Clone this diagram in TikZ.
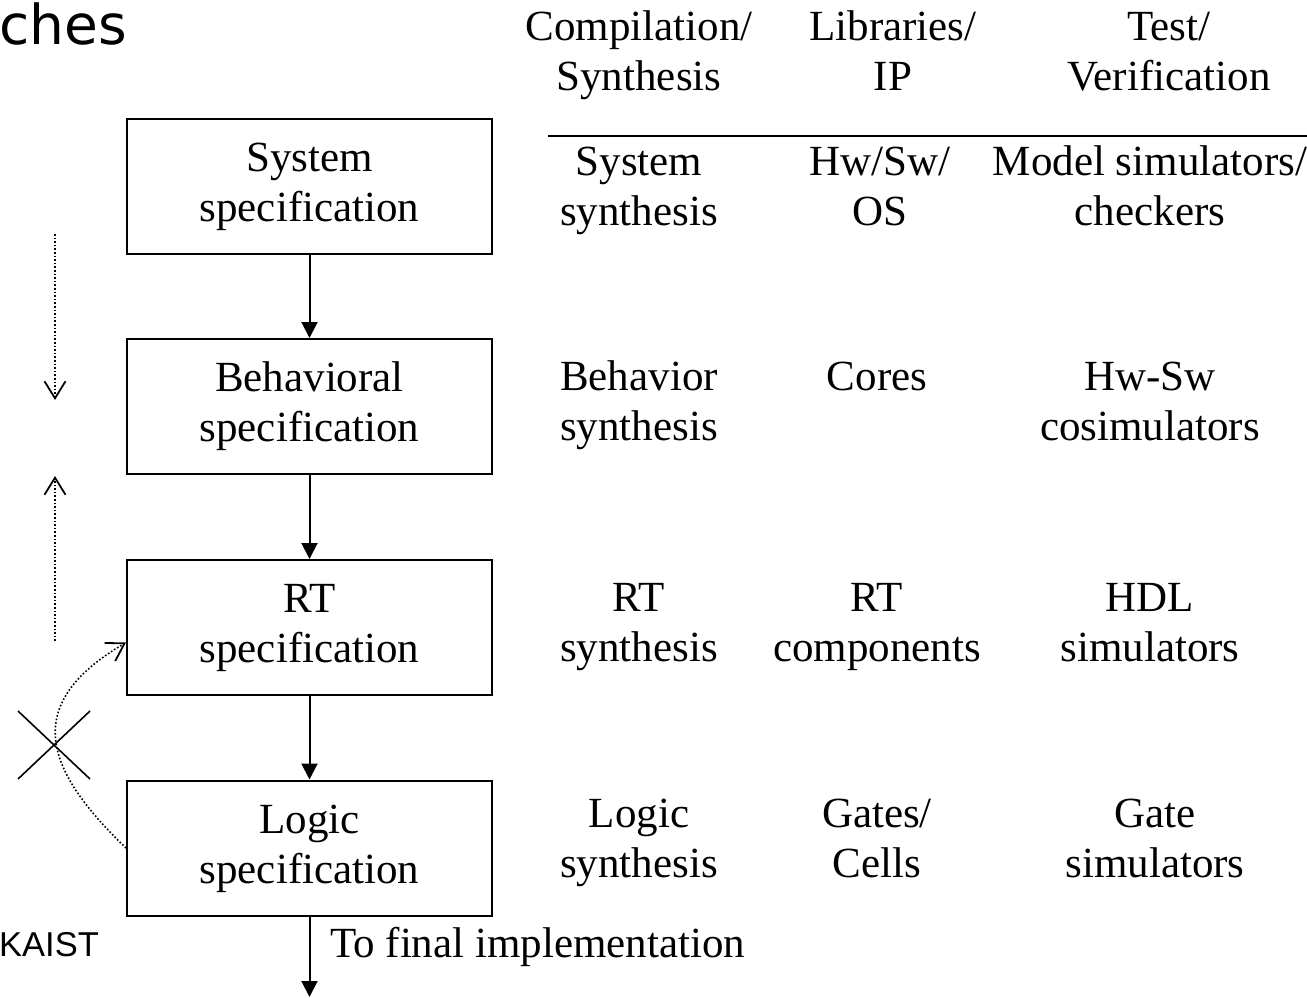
\documentclass[tikz,border=0pt]{standalone}
\usepackage{fontspec}
\setmainfont{Liberation Serif}
\newfontfamily\titlefont{DejaVu Sans}
\newfontfamily\logofont{Liberation Sans}
\usetikzlibrary{arrows.meta}
\begin{document}
\begin{tikzpicture}[x=1pt,y=-1pt,
  every node/.style={inner sep=0pt},
  txt/.style={font=\fontsize{43}{50}\selectfont, align=center},
  specbox/.style={txt, draw, line width=2pt, minimum width=365pt, minimum height=135pt},
  flow/.style={line width=2pt, -{Triangle[length=16pt,width=16pt]}},
  dotarrow/.style={line width=1.6pt, dotted, -{Straight Barb[length=17pt,width=21pt,line width=1.8pt]}},
  cross/.style={line width=1.6pt}
]
\useasboundingbox (0,0) rectangle (1307,998);
\newcommand{\tp}{\rule{0pt}{30pt}}
\newcommand{\bt}{\rule[-10pt]{0pt}{10pt}}

% title fragment and logo
\node[font=\titlefont\fontsize{55}{60}\selectfont, anchor=base west] (title) at (-1,45) {ches};
\node[font=\logofont\fontsize{34.5}{40}\selectfont, anchor=base west] (logo) at (-1,956) {KAIST};

% boxes
\node[specbox] (b1) at (309.5,186.5) {\tp System\\specification\bt};
\node[specbox] (b2) at (309.5,406.5) {\tp Behavioral\\specification\bt};
\node[specbox] (b3) at (309.5,627.5) {\tp RT\\specification\bt};
\node[specbox] (b4) at (309.5,848) {\tp Logic\\specification\bt};
\coordinate (fin) at (309.5,997);

\draw[flow] (b1) -- (b2);
\draw[flow] (b2) -- (b3);
\draw[flow] (b3) -- (b4);
\draw[flow] (b4) -- (fin);
\node[txt, anchor=base west] (impl) at (330,957) {To final implementation};

% headers
\node[txt] (h1) at (639,55) {\tp Compilation/\\Synthesis\bt};
\node[txt] (h2) at (893,55) {\tp Libraries/\\IP\bt};
\node[txt] (h3) at (1169,55) {\tp Test/\\Verification\bt};
\coordinate (rl) at (548,136);
\coordinate (rr) at (1307,136);
\draw[line width=2.5pt] (rl) -- (rr);

% rows
\node[txt] (r11) at (639,190) {\tp System\\synthesis\bt};
\node[txt] (r12) at (880,190) {\tp Hw/Sw/\\OS\bt};
\node[txt] (r13) at (1150,190) {\tp Model simulators/\\checkers\bt};

\node[txt] (r21) at (639,405) {\tp Behavior\\synthesis\bt};
\node[txt] (r22) at (877,405) {\tp Cores\\\bt};
\node[txt] (r23) at (1150,405) {\tp Hw-Sw\\cosimulators\bt};

\node[txt] (r31) at (639,626) {\tp RT\\synthesis\bt};
\node[txt] (r32) at (877,626) {\tp RT\\components\bt};
\node[txt] (r33) at (1150,626) {\tp HDL\\simulators\bt};

\node[txt] (r41) at (639,842) {\tp Logic\\synthesis\bt};
\node[txt] (r42) at (877,842) {\tp Gates/\\Cells\bt};
\node[txt] (r43) at (1155,842) {\tp Gate\\simulators\bt};

% left dotted arrows
\coordinate (d1s) at (55,234);
\coordinate (d1e) at (55,400);
\coordinate (u1s) at (55,641);
\coordinate (u1e) at (55,476);
\draw[dotarrow] (d1s) -- (d1e);
\draw[dotarrow] (u1s) -- (u1e);

% curved back-annotation arrow (crossed out)
\draw[dotarrow] (b4.west) .. controls (45,770) and (20,705) .. ([yshift=-15pt]b3.west);
\coordinate (xa) at (18,711);
\coordinate (xb) at (90,779);
\coordinate (xc) at (90,711);
\coordinate (xd) at (18,779);
\draw[cross] (xa) -- (xb);
\draw[cross] (xc) -- (xd);
\end{tikzpicture}
\end{document}
